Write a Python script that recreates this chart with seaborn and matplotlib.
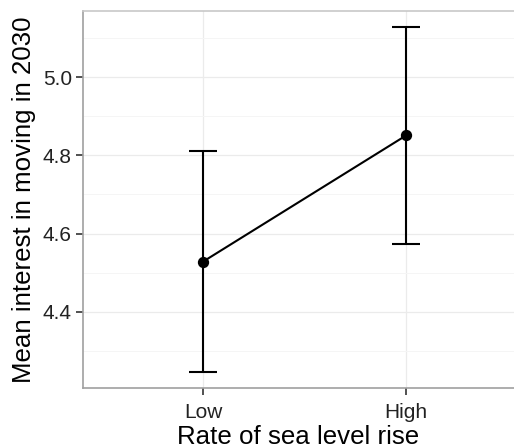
import matplotlib
matplotlib.use("Agg")
import matplotlib.pyplot as plt
import seaborn as sns
import pandas as pd
from matplotlib.ticker import MultipleLocator

categories = ["Low", "High"]
means = [4.528, 4.851]
lower = [4.246, 4.574]
upper = [4.810, 5.128]

df = pd.DataFrame({"rate": categories, "mean": means})

sns.set_theme(style="white")
plt.rcParams["font.family"] = ["Liberation Sans", "DejaVu Sans"]

fig = plt.figure(figsize=(5.14, 4.48), dpi=100)
ax = fig.add_axes([83/514, 1 - 388/448, 1 - 83/514, (388 - 11)/448])

sns.pointplot(data=df, x="rate", y="mean", order=categories, color="black",
              errorbar=None, markers="o", linestyles="-", ax=ax,
              markersize=7, linewidth=1.5)
yerr = [[m - l for m, l in zip(means, lower)], [u - m for m, u in zip(means, upper)]]
ax.errorbar(x=[0, 1], y=means, yerr=yerr, fmt="none", ecolor="black",
            elinewidth=1.5, capsize=10, capthick=1.5, zorder=3)

ax.set_xlim(-0.59, 1.53)
ax.set_ylim(4.205, 5.169)
ax.yaxis.set_major_locator(MultipleLocator(0.2))
ax.yaxis.set_minor_locator(MultipleLocator(0.1))
ax.set_yticks([4.4, 4.6, 4.8, 5.0])
ax.set_yticklabels(["4.4", "4.6", "4.8", "5.0"])

ax.grid(True, which="major", color="#EBEBEB", linewidth=0.9)
ax.grid(True, which="minor", axis="y", color="#F5F5F5", linewidth=0.7)
ax.set_axisbelow(True)

for side in ["left", "bottom", "top"]:
    ax.spines[side].set_color("#A0A0A0")
    ax.spines[side].set_linewidth(1.2)
ax.spines["top"].set_color("#C8C8C8")
ax.spines["right"].set_visible(False)

ax.tick_params(axis="both", which="major", length=5, width=1.2, color="#333333",
               labelsize=15, labelcolor="#222222", left=True, bottom=True)
ax.tick_params(axis="x", which="major", pad=6)
ax.tick_params(axis="y", which="major", pad=3)
ax.tick_params(axis="y", which="minor", length=0)

ax.set_xlabel("Rate of sea level rise", fontsize=18.6, color="black", labelpad=2)
ax.set_ylabel("Mean interest in moving in 2030", fontsize=18.6, color="black", labelpad=5)

fig.savefig("out.png", dpi=100)
